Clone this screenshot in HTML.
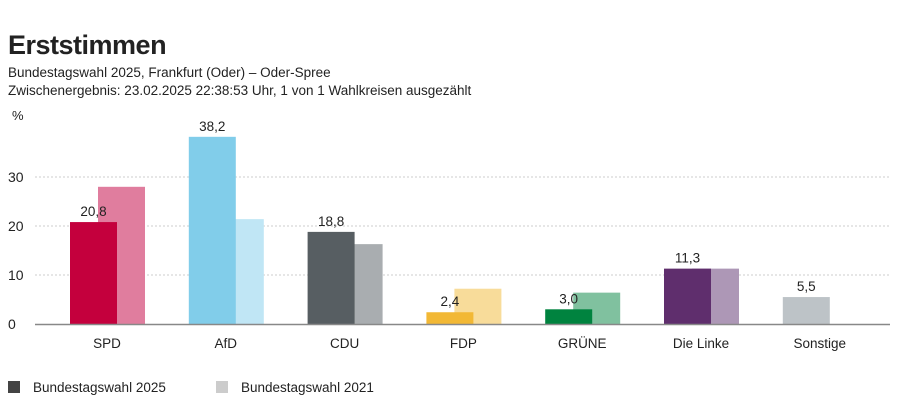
<!DOCTYPE html>
<html><head><meta charset="utf-8"><style>
body{margin:0;width:900px;height:401px;background:#fff;font-family:"Liberation Sans",sans-serif;color:#222;overflow:hidden;position:relative}
.t{position:absolute;left:8px;white-space:nowrap}
</style></head><body>
<div class="t" style="top:30px;font-size:27px;font-weight:bold;letter-spacing:-0.5px">Erststimmen</div>
<div class="t" style="top:65px;font-size:13.5px">Bundestagswahl 2025, Frankfurt (Oder) – Oder-Spree</div>
<div class="t" style="top:83px;font-size:13.5px">Zwischenergebnis: 23.02.2025 22:38:53 Uhr, 1 von 1 Wahlkreisen ausgezählt</div>
<svg id="c" width="900" height="401" style="position:absolute;left:0;top:0"></svg>
<script>
const categories=["SPD","AfD","CDU","FDP","GRÜNE","Die Linke","Sonstige"];
const values2025=[20.8,38.2,18.8,2.4,3.0,11.3,5.5];
const values2021=[28.0,21.4,16.3,7.2,6.4,11.3,null];
const colors2025=["#c4003d","#81cdea","#575e62","#f2b835","#00833f","#5f2e6d","#bdc3c7"];
const colors2021=["#e07d9e","#c0e6f5","#a9adb0","#f8dc9a","#80c19f","#ad97b6","#dfe1e3"];
const yTicks=[0,10,20,30];
const svg=document.getElementById('c');const NS="http://www.w3.org/2000/svg";
const y=v=>324-v*4.9;const cx=i=>107+i*118.8;
function mk(t,a,p){const e=document.createElementNS(NS,t);for(const k in a)e.setAttribute(k,a[k]);(p||svg).appendChild(e);return e;}
let u=mk('text',{x:12,y:120,'font-size':13,fill:'#222'});u.textContent='%';


yTicks.forEach(v=>{
 if(v>0){const g=mk('line',{x1:35,x2:890,y1:y(v),y2:y(v),stroke:'#ccc','stroke-dasharray':'2,2'});
 
 }
 const t=mk('text',{x:8,y:y(v)+5,'font-size':14,fill:'#222'});t.textContent=v;
 
 
});
categories.forEach((c,i)=>{
 const x=cx(i);
 if(values2021[i]!=null){const r=mk('rect',{x:x-9,y:y(values2021[i]),width:47,height:values2021[i]*4.9,fill:colors2021[i]});
 
 }
 const r2=mk('rect',{x:x-37,y:y(values2025[i]),width:47,height:values2025[i]*4.9,fill:colors2025[i]});
 
 
 const l=mk('text',{x:x-13.5,y:y(values2025[i])-6,'font-size':13.5,'text-anchor':'middle',fill:'#222'});l.textContent=values2025[i].toFixed(1).replace('.',',');
 
 
 const cl=mk('text',{x:x,y:348,'font-size':13.5,'text-anchor':'middle',fill:'#222'});cl.textContent=c;
 
 
});
const ax=mk('line',{x1:35,x2:890,y1:324.5,y2:324.5,stroke:'#888','stroke-width':1.5});


[[8,'#444','Bundestagswahl 2025'],[216,'#ccc','Bundestagswahl 2021']].forEach(([lx,col,txt])=>{
 const s=mk('rect',{x:lx,y:381,width:12,height:12,fill:col});
 
 
 const t=mk('text',{x:lx+25,y:392,'font-size':13.5,fill:'#222'});t.textContent=txt;
 
 
});
</script>
</body></html>
